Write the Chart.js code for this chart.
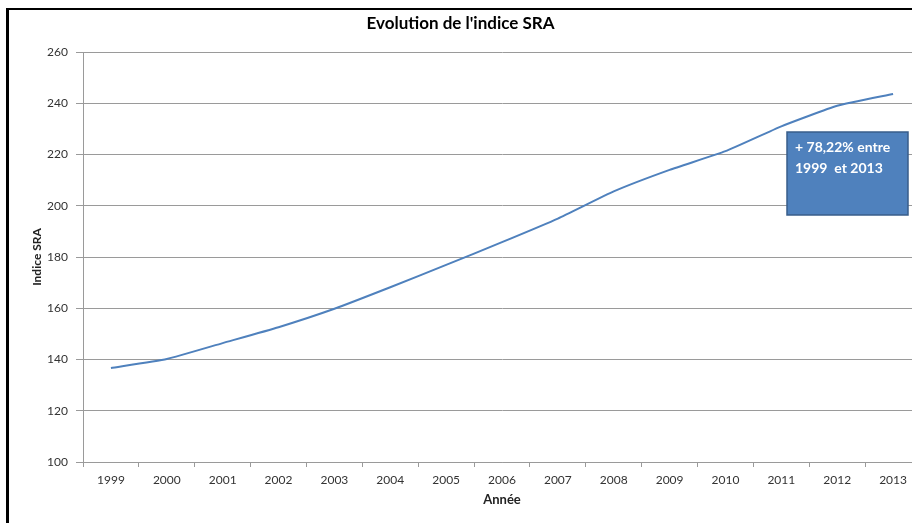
<!DOCTYPE html>
<html>
<head>
<meta charset="utf-8">
<script src="https://cdn.jsdelivr.net/npm/chart.js@4/dist/chart.umd.min.js"></script>
<style>
  html, body { margin: 0; padding: 0; background: #fff; overflow: hidden; }
  #wrap { width: 912px; height: 523px; position: relative; overflow: hidden; }
</style>
</head>
<body>
<div id="wrap"><canvas id="sraChart" width="934" height="523"></canvas></div>
<script>
const years = ['1999', '2000', '2001', '2002', '2003', '2004', '2005', '2006',
               '2007', '2008', '2009', '2010', '2011', '2012', '2013'];
const sraValues = [136.7, 140.2, 146.4, 152.6, 159.8, 168.2, 176.9, 185.8,
                   195.0, 205.6, 214.0, 221.3, 231.0, 239.0, 243.6];
const noteLines = ['+ 78,22% entre', '1999  et 2013'];

const FONT = "Lato, 'Open Sans', sans-serif";
const GRID = '#9a9a9a';

// cadre noir (coupé à droite et en bas) + encadré bleu
const extras = {
  id: 'extras',
  afterDraw(chart) {
    const ctx = chart.ctx;
    ctx.save();
    ctx.fillStyle = '#000';
    ctx.fillRect(6, 8, 3, 515);
    ctx.fillRect(6, 8, 928, 2);

    ctx.fillStyle = '#4F81BD';
    ctx.strokeStyle = '#385D8A';
    ctx.lineWidth = 1.5;
    ctx.fillRect(787, 132, 121, 83);
    ctx.strokeRect(787, 132, 121, 83);
    ctx.fillStyle = '#fff';
    ctx.font = "bold 14px " + FONT;
    ctx.textBaseline = 'middle';
    ctx.fillText(noteLines[0], 795, 147);
    ctx.fillText(noteLines[1], 795, 168);
    ctx.restore();
  }
};

new Chart(document.getElementById('sraChart'), {
  type: 'line',
  data: {
    labels: years,
    datasets: [{
      label: 'Indice SRA',
      data: sraValues,
      borderColor: '#4F81BD',
      borderWidth: 2,
      pointRadius: 0,
      tension: 0.15,
      fill: false
    }]
  },
  options: {
    responsive: false,
    animation: false,
    layout: { padding: { left: 0, right: 13, top: 0, bottom: 0 } },
    plugins: {
      legend: { display: false },
      tooltip: { enabled: false },
      title: {
        display: true,
        text: "Evolution de l'indice SRA",
        color: '#000',
        font: { family: FONT, size: 17, weight: 'bold' },
        padding: { top: 13, bottom: 18.6 }
      }
    },
    scales: {
      x: {
        offset: true,
        afterFit: s => { s.height = 61; },
        grid: {
          offset: true,
          drawOnChartArea: false,
          color: GRID,
          tickLength: 5
        },
        border: { color: GRID },
        ticks: {
          color: '#333',
          font: { family: FONT, size: 12 },
          padding: 6,
          maxRotation: 0,
          autoSkip: false
        },
        title: {
          display: true,
          text: 'Année',
          color: '#222',
          font: { family: FONT, size: 13, weight: 'bold' },
          padding: { top: 0, bottom: 15 }
        }
      },
      y: {
        min: 100,
        max: 260,
        afterFit: s => { s.width = 83; },
        grid: { color: GRID, tickLength: 7 },
        border: { color: GRID },
        ticks: {
          stepSize: 20,
          color: '#333',
          font: { family: FONT, size: 12 },
          padding: 8
        },
        title: {
          display: true,
          text: 'Indice SRA',
          color: '#222',
          font: { family: FONT, size: 12, weight: 'bold' },
          padding: { top: 30, bottom: 0 }
        }
      }
    }
  },
  plugins: [extras]
});
</script>
</body>
</html>
